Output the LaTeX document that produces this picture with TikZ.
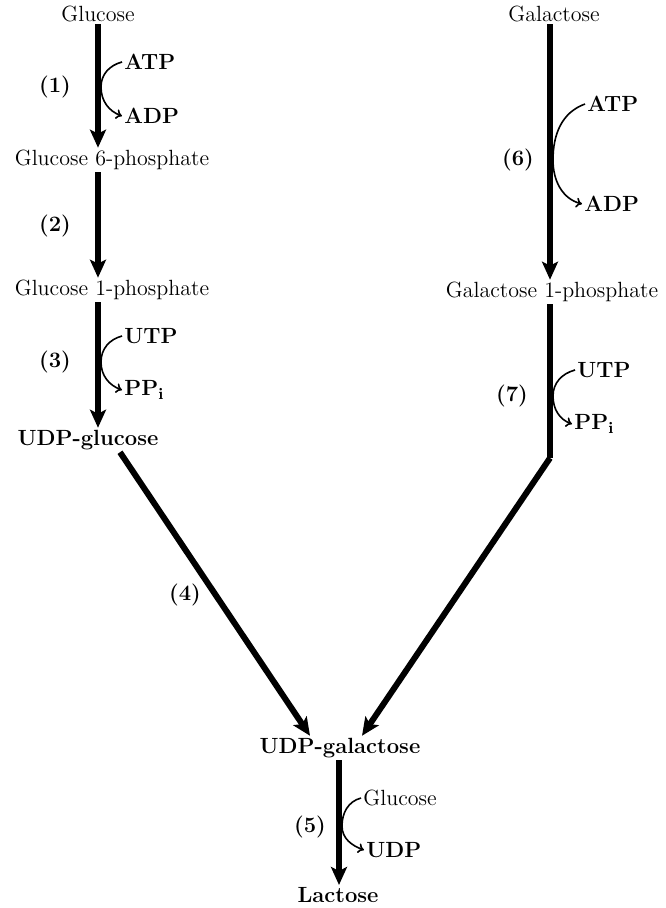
\documentclass[tikz,border=0pt]{standalone}
\usetikzlibrary{arrows.meta}
\begin{document}
\begin{tikzpicture}[
		x=0.5pt, y=-0.5pt,
		every node/.style={font=\fontsize{11}{13}\selectfont},
		compound/.style={inner sep=1pt},
		side/.style={inner sep=1pt, font=\fontsize{11}{13}\selectfont\bfseries},
		step label/.style={font=\fontsize{11}{13}\selectfont\bfseries},
		main/.style={line width=3pt, -{Stealth[length=9pt, width=8pt, inset=2pt]}},
		trunk/.style={line width=3pt},
		cofactor/.style={line width=0.8pt, -{To[length=3pt, width=5pt]}},
	]
		\useasboundingbox (0,0) rectangle (665,908);

		\node [compound] (glucose) at (98,14) {Glucose};
		\node [compound] (g6p) at (112,160) {Glucose 6-phosphate};
		\node [compound] (g1p) at (112,290) {Glucose 1-phosphate};
		\node [compound] (udpglc) at (88,440) {\bfseries UDP-glucose};
		\node [compound] (galactose) at (554,14) {Galactose};
		\node [compound] (gal1p) at (552,292) {Galactose 1-phosphate};
		\node [compound] (udpgal) at (340,748) {\bfseries UDP-galactose};
		\node [compound] (lactose) at (338,895) {\bfseries Lactose};

		\node [side, anchor=west] (atp1) at (122,62) {ATP};
		\node [side, anchor=west] (adp1) at (122,116) {ADP};
		\node [side, anchor=west] (utp3) at (122,336) {UTP};
		\node [side, anchor=west] (ppi3) at (122,390) {PP$_{\mathbf{i}}$};
		\node [side, anchor=west] (atp6) at (585,104) {ATP};
		\node [side, anchor=west] (adp6) at (582,204) {ADP};
		\node [side, anchor=west] (utp7) at (575,370) {UTP};
		\node [side, anchor=west] (ppi7) at (572,424) {PP$_{\mathbf{i}}$};
		\node [compound, anchor=west] (glc5) at (361,798) {Glucose};
		\node [side, anchor=west] (udp5) at (364,850) {UDP};

		\node [step label] (s1) at (55,87) {(1)};
		\node [step label] (s2) at (55,226) {(2)};
		\node [step label] (s3) at (55,362) {(3)};
		\node [step label] (s4) at (185,595) {(4)};
		\node [step label] (s5) at (310,827) {(5)};
		\node [step label] (s6) at (518,160) {(6)};
		\node [step label] (s7) at (512,396) {(7)};

		\coordinate (bend7) at (550,458);

		\draw [main] (glucose.south -| 98,0) -- (g6p.north -| 98,0);
		\draw [main] (g6p.south -| 98,0) -- (g1p.north -| 98,0);
		\draw [main] (g1p.south -| 98,0) -- (udpglc.north -| 98,0);
		\draw [main] (udpglc.south -| 120,0) -- (udpgal.north -| 310,0);
		\draw [main] (galactose.south -| 550,0) -- (gal1p.north -| 550,0);
		\draw [trunk] (gal1p.south -| 550,0) -- (bend7);
		\draw [main] (bend7) -- (udpgal.north -| 362,0);
		\draw [main] (udpgal.south -| 339,0) -- (lactose.north -| 339,0);

		\draw [cofactor] (atp1.west) to[out=195, in=90] (101,87) to[out=-90, in=160] (adp1.west);
		\draw [cofactor] (utp3.west) to[out=195, in=90] (101,362) to[out=-90, in=160] (ppi3.west);
		\draw [cofactor] (atp6.west) to[out=200, in=90] (553,160) to[out=-90, in=165] (adp6.west);
		\draw [cofactor] (utp7.west) to[out=195, in=90] (553,396) to[out=-90, in=160] (ppi7.west);
		\draw [cofactor] (glc5.west) to[out=195, in=90] (342,826) to[out=-90, in=160] (udp5.west);
	\end{tikzpicture}
\end{document}
